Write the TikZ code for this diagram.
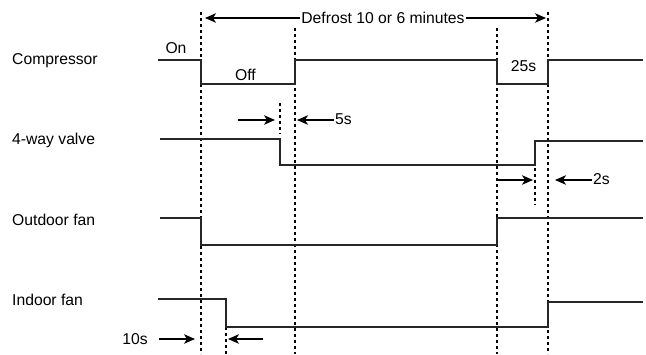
\documentclass[tikz,border=0pt]{standalone}
\usepackage{fontspec}
\setmainfont{Liberation Sans}
\usetikzlibrary{positioning}
\usetikzlibrary{arrows.meta}

\tikzset{
  signal/.style={line width=1.2pt, draw=black!85},
  guide/.style={line width=1.2pt, dash pattern=on 2.5pt off 3.5pt},
  timing/.style={line width=1.2pt, -{Stealth[length=11pt, width=9.5pt, inset=3pt]}},
  lbl/.style={font=\fontsize{15.7}{18}\selectfont, inner sep=1pt}
}

\begin{document}
\begin{tikzpicture}[x=1pt, y=-1pt]
    \useasboundingbox (0,0) rectangle (646,354);

    % row labels
    \node[lbl, anchor=base west] (comp) at (11,64.5) {Compressor};
    \node[lbl, below=80pt of comp.base west, anchor=base west] (valve) {4-way valve};
    \node[lbl, below=80.5pt of valve.base west, anchor=base west] (outfan) {Outdoor fan};
    \node[lbl, below=80pt of outfan.base west, anchor=base west] (infan) {Indoor fan};

    % guide lines
    \draw[guide] (201,12) -- (201,354);
    \draw[guide] (295,28) -- (295,354);
    \draw[guide] (497,28) -- (497,354);
    \draw[guide] (548,12) -- (548,354);
    \draw[guide] (280,103) -- (280,134);
    \draw[guide] (535,168) -- (535,205);
    \draw[guide] (226,327) -- (226,354);

    % signals
    \draw[signal] (158,60) -- (201,60) -- (201,84) -- (295,84) -- (295,60)
        -- (497,60) -- (497,84) -- (548,84) -- (548,60) -- (643,60);
    \draw[signal] (160,139) -- (280,139) -- (280,165) -- (535,165) -- (535,141) -- (643,141);
    \draw[signal] (160,218) -- (201,218) -- (201,245) -- (497,245) -- (497,218) -- (643,218);
    \draw[signal] (158,299) -- (226,299) -- (226,327) -- (548,327) -- (548,302) -- (643,302);

    % state labels
    \node[lbl, anchor=base] (on) at (176,53) {On};
    \node[lbl, anchor=base] (off) at (245.5,80) {Off};
    \node[lbl, anchor=base] (wait) at (523.5,71) {25s};

    % defrost period
    \node[lbl, anchor=base] (defrost) at (383,23.5) {Defrost 10 or 6 minutes};
    \coordinate (dstart) at (205,18);
    \coordinate (dend) at (546,18);
    \draw[timing] (defrost.west |- dstart) -- (dstart);
    \draw[timing] (defrost.east |- dend) -- (dend);

    % delays
    \node[lbl, anchor=base west] (five) at (334,124) {5s};
    \coordinate (f0) at (238,120);
    \coordinate (f1) at (275,120);
    \coordinate (f2) at (297,120);
    \draw[timing] (f0) -- (f1);
    \draw[timing] (five.west |- f2) -- (f2);

    \node[lbl, anchor=base west] (two) at (592,184) {2s};
    \coordinate (t0) at (497,180);
    \coordinate (t1) at (533,180);
    \coordinate (t2) at (555,180);
    \draw[timing] (t0) -- (t1);
    \draw[timing] (two.west |- t2) -- (t2);

    \node[lbl, anchor=base east] (ten) at (149,344) {10s};
    \coordinate (n1) at (195,339);
    \coordinate (n2) at (228,339);
    \coordinate (n3) at (263,339);
    \draw[timing] (ten.east |- n1) ++(10,0) -- (n1);
    \draw[timing] (n3) -- (n2);
\end{tikzpicture}
\end{document}
